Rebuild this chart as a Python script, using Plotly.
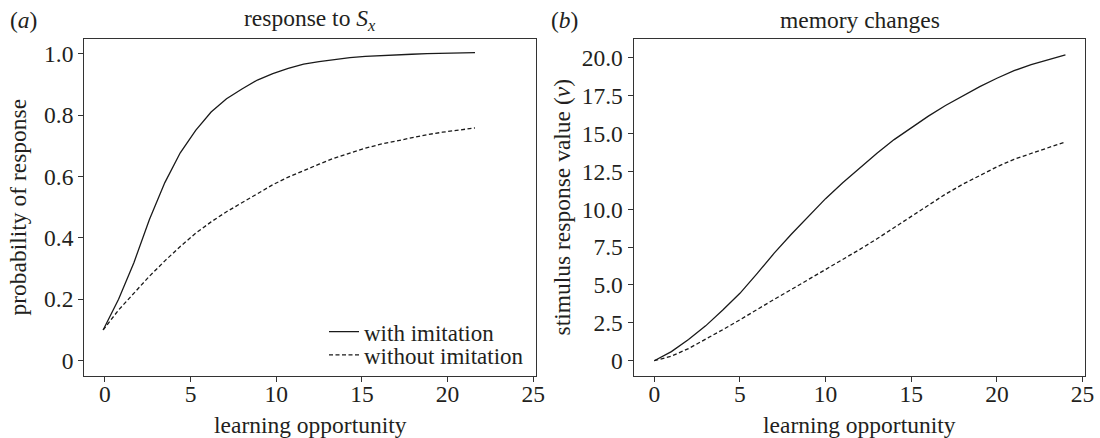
import plotly.graph_objects as go

# ---------------- data ----------------
left_x = [-0.1, 0.8, 1.7, 2.6, 3.5, 4.4, 5.3, 6.2, 7.1, 8.0, 8.9, 9.8, 10.7,
          11.6, 12.5, 13.4, 14.3, 15.2, 16.1, 17.0, 17.9, 18.8, 19.7, 20.6, 21.6]
left_with = [0.10, 0.20, 0.32, 0.46, 0.58, 0.677, 0.75, 0.81, 0.853, 0.885, 0.914,
             0.935, 0.952, 0.966, 0.974, 0.981, 0.987, 0.991, 0.994, 0.996, 0.998,
             1.0, 1.001, 1.002, 1.003]
left_without = [0.10, 0.165, 0.22, 0.275, 0.325, 0.372, 0.415, 0.452, 0.485, 0.515,
                0.545, 0.573, 0.598, 0.62, 0.64, 0.66, 0.677, 0.692, 0.705, 0.716,
                0.727, 0.736, 0.744, 0.751, 0.758]

right_x = list(range(0, 25))
right_with = [0.0, 0.6, 1.4, 2.3, 3.35, 4.45, 5.75, 7.1, 8.35, 9.55, 10.7, 11.75,
              12.75, 13.7, 14.6, 15.4, 16.15, 16.85, 17.5, 18.1, 18.65, 19.15,
              19.55, 19.9, 20.2]
right_without = [0.0, 0.3, 0.8, 1.4, 2.05, 2.7, 3.4, 4.05, 4.7, 5.35, 6.0, 6.65,
                 7.35, 8.05, 8.8, 9.55, 10.3, 11.0, 11.65, 12.25, 12.8, 13.3,
                 13.7, 14.1, 14.45]

x_ticks = [0, 5, 10, 15, 20, 25]
left_yticks = [0, 0.2, 0.4, 0.6, 0.8, 1.0]
left_yticktext = ["0", "0.2", "0.4", "0.6", "0.8", "1.0"]
right_yticks = [0, 2.5, 5.0, 7.5, 10.0, 12.5, 15.0, 17.5, 20.0]
right_yticktext = ["0", "2.5", "5.0", "7.5", "10.0", "12.5", "15.0", "17.5", "20.0"]

series_names = ["with imitation", "without imitation"]
panel_titles = ["response to <i>S</i><sub><i>x</i></sub>", "memory changes"]
panel_letters = ["(<i>a</i>)", "(<i>b</i>)"]
x_title = "learning opportunity"
y_titles = ["probability of response", "stimulus response value (<i>v</i>)"]

# ---------------- style ----------------
FONT = "Liberation Serif, Times New Roman, serif"
TXT = "#231f20"
AX = "#333333"
LINE = "#1a1a1a"
FS = 23.5
W, H = 1100, 438

fig = go.Figure()
fig.add_trace(go.Scatter(x=left_x, y=left_with, mode="lines", name=series_names[0],
                         line=dict(color=LINE, width=1.3), xaxis="x", yaxis="y",
                         legend="legend"))
fig.add_trace(go.Scatter(x=left_x, y=left_without, mode="lines", name=series_names[1],
                         line=dict(color=LINE, width=1.3, dash="4px,2.5px"),
                         xaxis="x", yaxis="y", legend="legend2"))
fig.add_trace(go.Scatter(x=right_x, y=right_with, mode="lines", showlegend=False,
                         line=dict(color=LINE, width=1.3), xaxis="x2", yaxis="y2"))
fig.add_trace(go.Scatter(x=right_x, y=right_without, mode="lines", showlegend=False,
                         line=dict(color=LINE, width=1.3, dash="4px,2.5px"),
                         xaxis="x2", yaxis="y2"))

def px_x(p):
    return p / W

def px_y(p):
    return 1 - p / H

axis_common = dict(showline=True, mirror=True, linecolor=AX, linewidth=1.3,
                   ticks="outside", ticklen=5, tickwidth=1.2, tickcolor=AX,
                   showgrid=False, zeroline=False, automargin=False,
                   tickfont=dict(family=FONT, size=FS, color=TXT))

legend_common = dict(xanchor="left", yanchor="middle", bgcolor="rgba(0,0,0,0)",
                     borderwidth=0, itemwidth=30,
                     font=dict(family=FONT, size=FS - 0.5, color=TXT))

ydom = [px_y(375.7), px_y(39.2)]
fig.update_layout(
    width=W, height=H,
    margin=dict(l=0, r=0, t=0, b=0),
    paper_bgcolor="white", plot_bgcolor="white",
    font=dict(family=FONT, size=FS, color=TXT),
    xaxis=dict(domain=[px_x(84.3), px_x(536.0)], range=[-1.2, 25.16], anchor="y",
               tickvals=x_ticks, ticklabelstandoff=-8, **axis_common),
    yaxis=dict(domain=ydom, range=[-0.049, 1.047], anchor="x",
               tickvals=left_yticks, ticktext=left_yticktext, **axis_common),
    xaxis2=dict(domain=[px_x(633.7), px_x(1085.3)], range=[-1.2, 25.16], anchor="y2",
                tickvals=x_ticks, ticklabelstandoff=-8, **axis_common),
    yaxis2=dict(domain=ydom, range=[-0.99, 21.23], anchor="x2",
                tickvals=right_yticks, ticktext=right_yticktext, **axis_common),
    showlegend=True,
    legend=dict(x=px_x(324), y=px_y(331.7), **legend_common),
    legend2=dict(x=px_x(324), y=px_y(355), **legend_common),
)

ann = []
centers = [(84.3 + 536.0) / 2, (633.7 + 1085.3) / 2]
for i in range(2):
    ann.append(dict(text=panel_titles[i], x=px_x(centers[i]), y=px_y(20), xref="paper",
                    yref="paper", xanchor="center", yanchor="middle", showarrow=False,
                    font=dict(family=FONT, size=FS, color=TXT)))
    ann.append(dict(text=x_title, x=px_x(centers[i]), y=px_y(425), xref="paper",
                    yref="paper", xanchor="center", yanchor="middle", showarrow=False,
                    font=dict(family=FONT, size=FS, color=TXT)))
ann.append(dict(text=panel_letters[0], x=px_x(23.5), y=px_y(20), xref="paper", yref="paper",
                xanchor="center", yanchor="middle", showarrow=False,
                font=dict(family=FONT, size=FS, color=TXT)))
ann.append(dict(text=panel_letters[1], x=px_x(564), y=px_y(20), xref="paper", yref="paper",
                xanchor="center", yanchor="middle", showarrow=False,
                font=dict(family=FONT, size=FS, color=TXT)))
ann.append(dict(text=y_titles[0], x=px_x(18), y=px_y(207.5), xref="paper", yref="paper",
                xanchor="center", yanchor="middle", showarrow=False, textangle=-90,
                font=dict(family=FONT, size=FS, color=TXT)))
ann.append(dict(text=y_titles[1], x=px_x(562), y=px_y(207.5), xref="paper", yref="paper",
                xanchor="center", yanchor="middle", showarrow=False, textangle=-90,
                font=dict(family=FONT, size=FS, color=TXT)))
fig.update_layout(annotations=ann)

fig.write_html("out.html", config={"displayModeBar": False},
               post_script="document.body.style.margin='0';")
